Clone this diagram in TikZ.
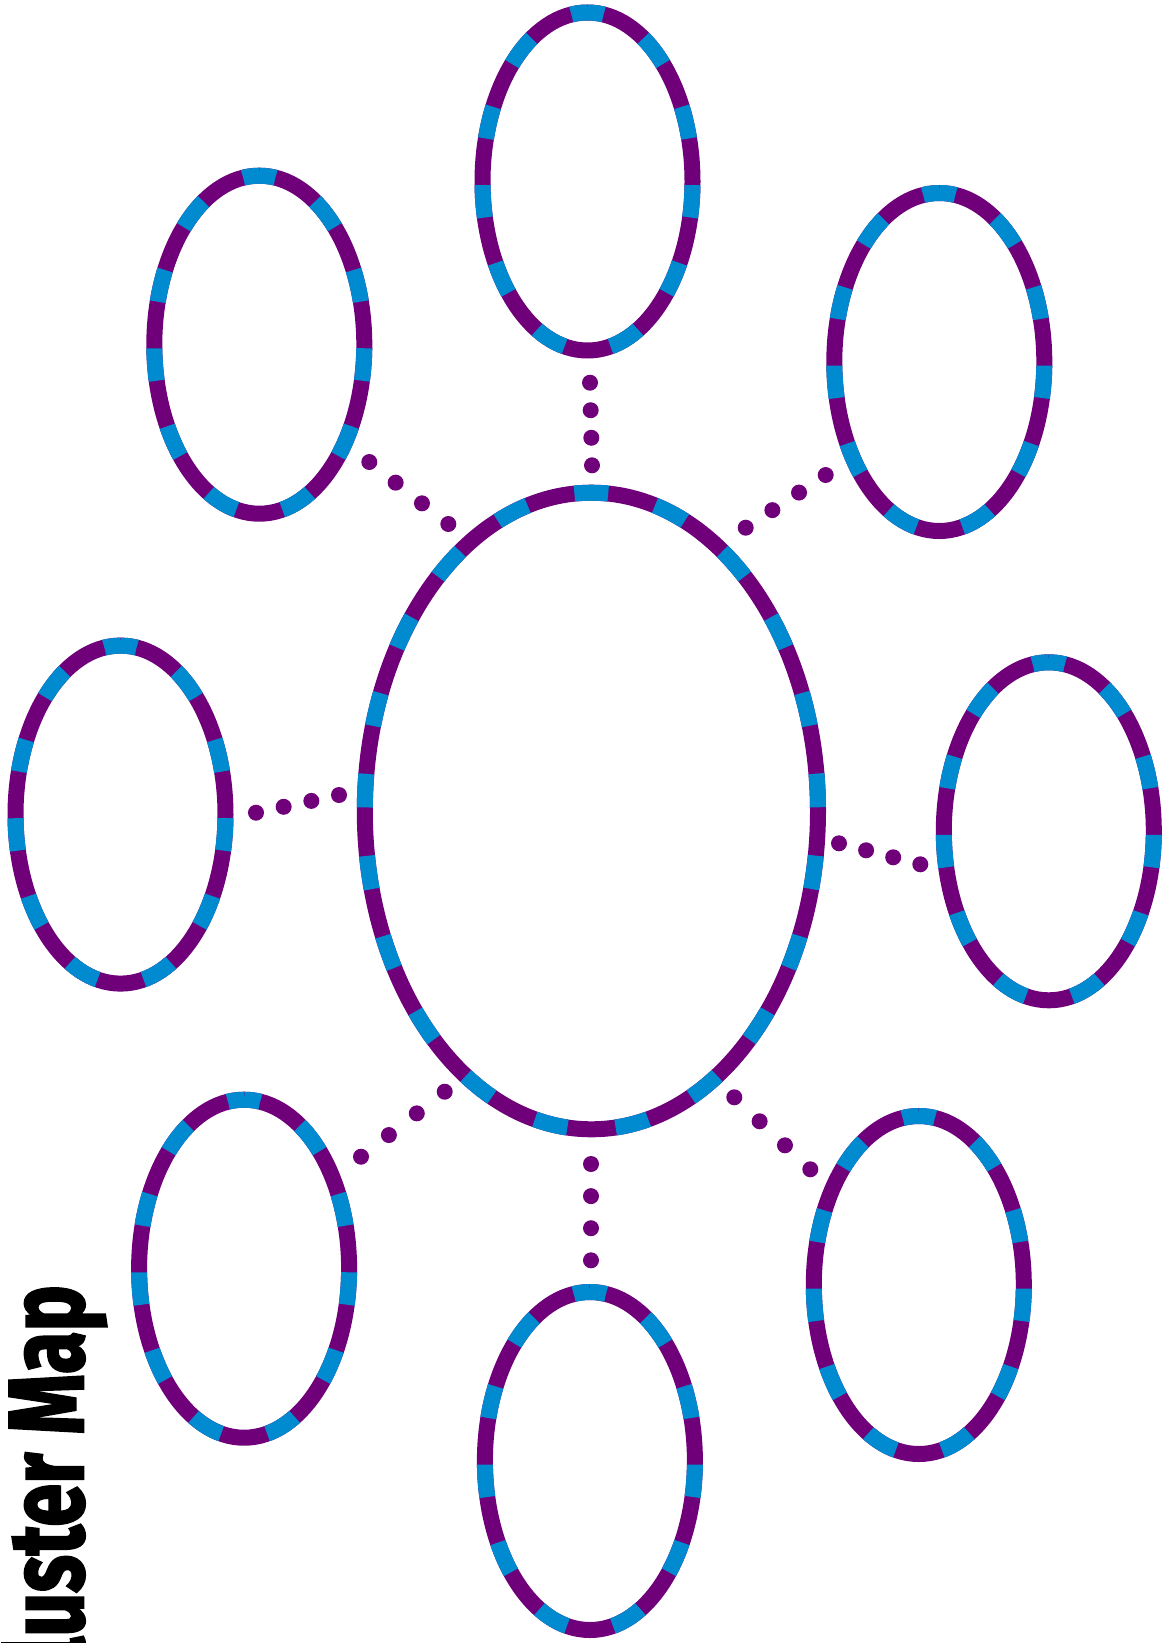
\documentclass[tikz,border=0pt]{standalone}
\usepackage{fontspec}
\newfontfamily\titlefont{Fira Sans}[BoldFeatures={FakeBold=2.5}]
\usetikzlibrary{calc}
\definecolor{cmpurple}{RGB}{111,0,122}
\definecolor{cmblue}{RGB}{0,139,208}
\tikzset{
  ellline/.style={line width=16pt},
  cmdot/.style={fill=cmpurple},
}
% #1 name, #2 x, #3 y (page, downwards), #4 rx, #5 ry, #6 number of dash periods
\newcommand\cmellipse[6]{%
  \coordinate (#1) at (#2,-#3);
  \pgfmathsetmacro\cmh{((#5-#4)/(#5+#4))^2}%
  \pgfmathsetmacro\cmP{pi*(#4+#5)*(1+3*\cmh/(10+sqrt(4-3*\cmh)))}%
  \pgfmathsetmacro\cmT{\cmP/#6}%
  \pgfmathsetmacro\cmB{0.41*\cmT}%
  \pgfmathsetmacro\cmQ{\cmT-\cmB}%
  \pgfmathsetmacro\cmF{\cmB/2}%
  \draw[ellline, cmpurple] (#1) ellipse[x radius=#4, y radius=#5];
  \draw[ellline, cmblue, dash pattern=on \cmB pt off \cmQ pt, dash phase=\cmF pt]
    ($(#1)+(0,#5)$) arc[start angle=90, delta angle=-360, x radius=#4, y radius=#5];
}
% four dots from named coordinate #1 to named coordinate #2
\newcommand\cmdots[2]{%
  \foreach \t in {0,1,2,3} {\fill[cmdot] ($(#1)!\t/3!(#2)$) circle[radius=8];}
}
\begin{document}
\begin{tikzpicture}[x=1pt,y=1pt]
\useasboundingbox (0,-1643) rectangle (1163,0);
\clip (0,-1643) rectangle (1163,0);
% ellipses
\cmellipse{center}{591.4}{811.0}{226.6}{318.3}{21}
\cmellipse{top}{587.5}{181.5}{105}{169}{11}
\cmellipse{ul}{259.3}{344.7}{105}{169}{11}
\cmellipse{ur}{939.3}{362.0}{105}{169}{11}
\cmellipse{left}{120.5}{814.6}{105}{169}{11}
\cmellipse{right}{1048.8}{831.3}{105}{169}{11}
\cmellipse{ll}{244.1}{1268.7}{105}{169}{11}
\cmellipse{lr}{918.8}{1285.0}{105}{169}{11}
\cmellipse{bottom}{589.9}{1461.0}{105}{169}{11}
% dot connectors
\coordinate (t1) at (590,-382.7);   \coordinate (t2) at (592,-465.3);
\coordinate (ul1) at (369.3,-462);  \coordinate (ul2) at (448.3,-524);
\coordinate (ur1) at (825.7,-475);  \coordinate (ur2) at (745.7,-527.7);
\coordinate (l1) at (256,-812.7);   \coordinate (l2) at (339,-795);
\coordinate (r1) at (839,-843.3);   \coordinate (r2) at (920.3,-864.3);
\coordinate (ll1) at (444.7,-1091.7); \coordinate (ll2) at (361,-1156.7);
\coordinate (b1) at (591,-1164);    \coordinate (b2) at (591,-1260.3);
\coordinate (lr1) at (734.3,-1097.3); \coordinate (lr2) at (810.3,-1169.3);
\cmdots{t1}{t2}
\cmdots{ul1}{ul2}
\cmdots{ur1}{ur2}
\cmdots{l1}{l2}
\cmdots{r1}{r2}
\cmdots{ll1}{ll2}
\cmdots{b1}{b2}
\cmdots{lr1}{lr2}
% title
\node[rotate=90, anchor=base east, inner sep=0pt] (title) at (83,-1285)
  {\scalebox{0.73}[1]{\titlefont\bfseries\fontsize{106}{110}\selectfont Cluster Map}};
\end{tikzpicture}
\end{document}
